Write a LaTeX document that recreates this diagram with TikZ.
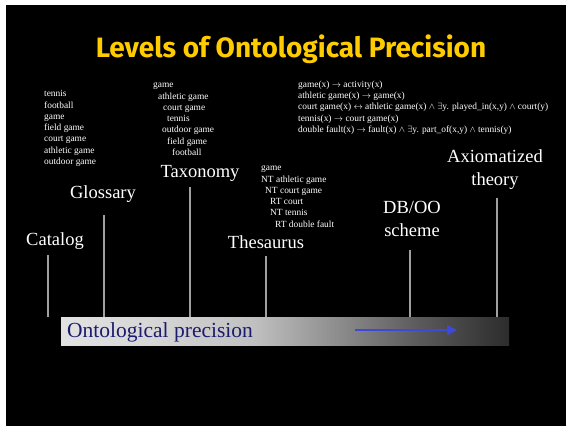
\documentclass[tikz,border=0pt]{standalone}
\usepackage{fontspec}
\setmainfont{Liberation Serif}
\newfontfamily\titlefont{Fira Sans}
\usetikzlibrary{arrows.meta}
\definecolor{titleyellow}{HTML}{FFCC00}
\definecolor{precblue}{HTML}{1C1C6E}
\definecolor{arrowblue}{HTML}{4048D8}
\definecolor{stemgray}{HTML}{A0A0A0}
\definecolor{sA}{HTML}{E2E2E2}
\definecolor{sB}{HTML}{D6D6D6}
\definecolor{sC}{HTML}{C0C0C0}
\definecolor{sD}{HTML}{8C8C8C}
\definecolor{sE}{HTML}{5A5A5A}
\definecolor{sF}{HTML}{2C2C2C}
\pgfdeclarehorizontalshading{barshade}{100bp}{color(0bp)=(sA); color(25bp)=(sA); color(35bp)=(sB); color(46.5bp)=(sC); color(56bp)=(sD); color(65bp)=(sE); color(75bp)=(sF); color(100bp)=(sF)}
\tikzset{
  small/.style={text=white, inner sep=0pt, anchor=north west, align=left, font=\fontsize{9.4}{11.3}\selectfont},
  level/.style={text=white, inner sep=0pt, anchor=base, align=center, font=\fontsize{18.5}{22.5}\selectfont},
  stem/.style={draw=stemgray, line width=1.4pt},
}
\begin{document}
\begin{tikzpicture}[x=1pt,y=-1pt]
\useasboundingbox (0,0) rectangle (566,426);
\fill[white] (0,0) rectangle (566,426);
\fill[black] (6,5) rectangle (566,426);
% title
\node[text=titleyellow, inner sep=0pt, anchor=base, font=\titlefont\bfseries\fontsize{28}{30}\selectfont] (title) at (291,57) {Levels of Ontological Precision};
% small texts
\node[small] (glosslist) at (44,88.6) {\strut tennis\\football\\game\\field game\\court game\\athletic game\\outdoor game};
\node[small] (taxlist) at (153,79.6) {\strut game\\\hspace*{5pt}athletic game\\\hspace*{10pt}court game\\\hspace*{14pt}tennis\\\hspace*{9pt}outdoor game\\\hspace*{14pt}field game\\\hspace*{19pt}football};
\node[small] (axlist) at (298,79) {\strut game(x) $\rightarrow$ activity(x)\\athletic game(x) $\rightarrow$ game(x)\\court game(x) $\leftrightarrow$ athletic game(x) $\wedge$ $\exists$y. played\_in(x,y) $\wedge$ court(y)\\tennis(x) $\rightarrow$ court game(x)\\double fault(x) $\rightarrow$ fault(x) $\wedge$ $\exists$y. part\_of(x,y) $\wedge$ tennis(y)};
\node[small] (thlist) at (261,162.6) {\strut game\\NT athletic game\\\hspace*{4pt}NT\ court game\\\hspace*{9pt}RT court\\\hspace*{9pt}NT tennis\\\hspace*{14pt}RT double fault};
% level labels (base = baseline of last line)
\node[level] (catalog) at (55,245) {Catalog};
\node[level] (glossary) at (103,198) {Glossary};
\node[level] (taxonomy) at (200,177) {Taxonomy};
\node[level] (thesaurus) at (266,248) {Thesaurus};
\node[level] (dboo) at (412,236) {DB/OO\\scheme};
\node[level] (axiom) at (495,185) {Axiomatized\\theory};
% bar
\node[shading=barshade, inner sep=0pt, minimum width=448pt, minimum height=28pt, anchor=north west] (bar) at (61,317) {};
\node[text=precblue, inner sep=0pt, anchor=base west, font=\fontsize{21.5}{24}\selectfont] (prec) at (67,337) {Ontological precision};
\coordinate (arrS) at (355,330);
\coordinate (arrE) at (457,330);
\draw[arrowblue, line width=2.5pt, -{Triangle[length=10pt,width=10pt]}] (arrS) -- (arrE);
% stems
\coordinate (catT) at (48,255);
\coordinate (catB) at (48,317);
\coordinate (glT) at (104,215);
\coordinate (taxT) at (190,187);
\coordinate (thT) at (266,256);
\coordinate (dbT) at (410,250);
\coordinate (axT) at (497,198);
\draw[stem] (catT) -- (catB);
\draw[stem] (glT) -- (glT |- bar.north);
\draw[stem] (taxT) -- (taxT |- bar.north);
\draw[stem] (thT) -- (thT |- bar.north);
\draw[stem] (dbT) -- (dbT |- bar.north);
\draw[stem] (axT) -- (axT |- bar.north);
\end{tikzpicture}
\end{document}
